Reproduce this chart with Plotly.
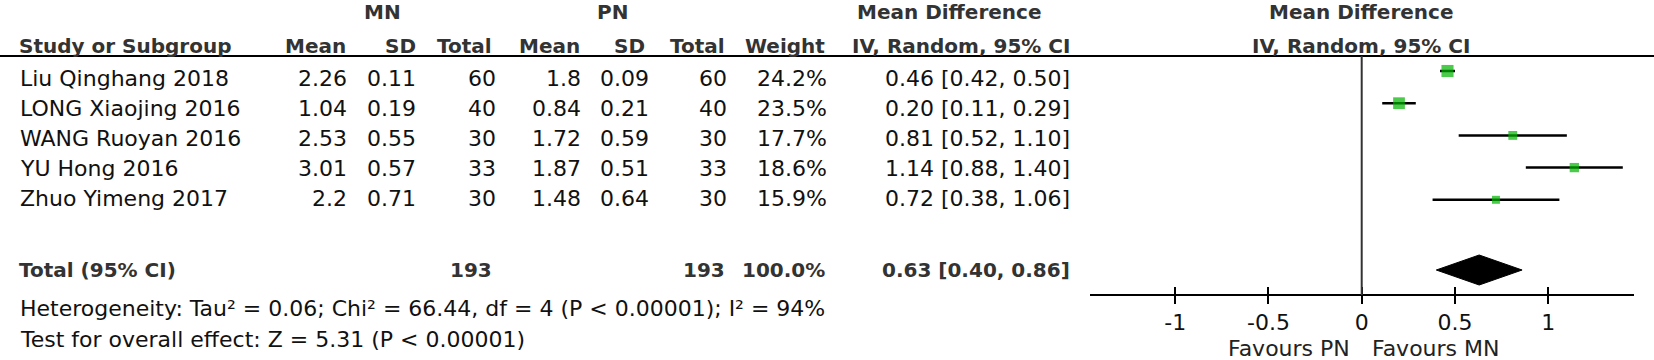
import plotly.graph_objects as go

# ---------------- data ----------------
studies = ["Liu Qinghang 2018", "LONG Xiaojing 2016", "WANG Ruoyan 2016", "YU Hong 2016", "Zhuo Yimeng 2017"]
mn_mean = [2.26, 1.04, 2.53, 3.01, 2.2]
mn_sd = [0.11, 0.19, 0.55, 0.57, 0.71]
mn_n = [60, 40, 30, 33, 30]
pn_mean = [1.8, 0.84, 1.72, 1.87, 1.48]
pn_sd = [0.09, 0.21, 0.59, 0.51, 0.64]
pn_n = [60, 40, 30, 33, 30]
weights = [24.2, 23.5, 17.7, 18.6, 15.9]
md = [0.46, 0.20, 0.81, 1.14, 0.72]
ci_lo = [0.42, 0.11, 0.52, 0.88, 0.38]
ci_hi = [0.50, 0.29, 1.10, 1.40, 1.06]
total_mn = 193
total_pn = 193
total_weight = 100.0
total_md = 0.63
total_lo = 0.40
total_hi = 0.86
heterogeneity = "Heterogeneity: Tau² = 0.06; Chi² = 66.44, df = 4 (P < 0.00001); I² = 94%"
overall = "Test for overall effect: Z = 5.31 (P < 0.00001)"
tick_vals = [-1, -0.5, 0, 0.5, 1]
tick_text = ["-1", "-0.5", "0", "0.5", "1"]

# ---------------- layout constants (pixels) ----------------
W, H = 1654, 360
FONT = "DejaVu Sans"
REG = 22
BLD = 20
C_REG = "#111111"
C_BLD = "#333333"
GREEN = "#00b400"

text_y0, text_step = 78, 30
mark_y0, mark_step = 71, 32.2
title_y = 12
head_y = 46
total_y = 270
diamond_y = 270
diamond_h = 15
line_y = 56
axis_y = 295
het_y = 308
test_y = 339
fav_y = 348

x_left_px, x_right_px = 1090, 1634
zero_px, unit_px = 1361.7, 186.5

def px(x):
    return x / W

fig = go.Figure()

# CI lines
lx, ly = [], []
for i in range(len(studies)):
    y = mark_y0 + i * mark_step
    lx += [ci_lo[i], ci_hi[i], None]
    ly += [y, y, None]
fig.add_trace(go.Scatter(x=lx, y=ly, mode="lines", line=dict(color="black", width=2.5),
                         hoverinfo="skip", showlegend=False, cliponaxis=False))
# squares
fig.add_trace(go.Scatter(
    x=md, y=[mark_y0 + i * mark_step for i in range(len(studies))], mode="markers",
    marker=dict(symbol="square", color=GREEN, size=[w * 0.5 for w in weights], line=dict(width=0)),
    showlegend=False, cliponaxis=False))
# diamond
fig.add_trace(go.Scatter(
    x=[total_lo, total_md, total_hi, total_md, total_lo],
    y=[diamond_y, diamond_y - diamond_h, diamond_y, diamond_y + diamond_h, diamond_y],
    mode="lines", fill="toself", fillcolor="black", line=dict(color="black", width=1),
    showlegend=False, cliponaxis=False))

ann = []

def add(text, x, y, anchor="left", bold=False, size=None, color=None):
    ann.append(dict(
        text=("<b>%s</b>" % text) if bold else text,
        x=px(x), xref="paper", y=y, yref="y", xanchor=anchor, yanchor="middle",
        showarrow=False,
        font=dict(family=FONT, size=size or (BLD if bold else REG),
                  color=color or (C_BLD if bold else C_REG))))

# headers
add("MN", 382, title_y, "center", bold=True)
add("PN", 612, title_y, "center", bold=True)
add("Mean Difference", 949, title_y, "center", bold=True)
add("Mean Difference", 1361, title_y, "center", bold=True)
add("Study or Subgroup", 17, head_y, "left", bold=True)
add("Mean", 348, head_y, "right", bold=True)
add("SD", 418, head_y, "right", bold=True)
add("Total", 494, head_y, "right", bold=True)
add("Mean", 582, head_y, "right", bold=True)
add("SD", 647, head_y, "right", bold=True)
add("Total", 727, head_y, "right", bold=True)
add("Weight", 827, head_y, "right", bold=True)
add("IV, Random, 95% CI", 1072, head_y, "right", bold=True)
add("IV, Random, 95% CI", 1361, head_y, "center", bold=True)

# study rows
for i, s in enumerate(studies):
    y = text_y0 + i * text_step
    add(s, 18, y, "left")
    add(str(mn_mean[i]), 349, y, "right")
    add(str(mn_sd[i]), 418, y, "right")
    add(str(mn_n[i]), 498, y, "right")
    add(str(pn_mean[i]), 583, y, "right")
    add(str(pn_sd[i]), 651, y, "right")
    add(str(pn_n[i]), 729, y, "right")
    add("%.1f%%" % weights[i], 829, y, "right")
    add("%.2f [%.2f, %.2f]" % (md[i], ci_lo[i], ci_hi[i]), 1072, y, "right")

# total
add("Total (95% CI)", 17, total_y, "left", bold=True)
add(str(total_mn), 494, total_y, "right", bold=True)
add(str(total_pn), 727, total_y, "right", bold=True)
add("%.1f%%" % total_weight, 827, total_y, "right", bold=True)
add("%.2f [%.2f, %.2f]" % (total_md, total_lo, total_hi), 1072, total_y, "right", bold=True)
add(heterogeneity, 18, het_y, "left")
add(overall, 18, test_y, "left")
add("Favours PN", 1352, fav_y, "right", color="#222222")
add("Favours MN", 1370, fav_y, "left", color="#222222")

shapes = [
    dict(type="line", xref="paper", yref="y", x0=0, x1=1, y0=line_y, y1=line_y,
         line=dict(color="black", width=2)),
    dict(type="line", xref="x", yref="y", x0=0, x1=0, y0=line_y, y1=axis_y,
         line=dict(color="#333333", width=2)),
]

xr = [(x_left_px - zero_px) / unit_px, (x_right_px - zero_px) / unit_px]
dom = [px(x_left_px), px(x_right_px)]
axis_pos = (H - axis_y) / H

fig.update_layout(
    width=W, height=H, margin=dict(l=0, r=0, t=0, b=0),
    paper_bgcolor="white", plot_bgcolor="rgba(0,0,0,0)",
    annotations=ann, shapes=shapes, showlegend=False,
    xaxis=dict(domain=dom, range=xr, anchor="free", position=axis_pos,
               showline=True, linecolor="black", linewidth=2,
               ticks="outside", ticklen=8, tickwidth=2, tickcolor="black",
               tickvals=tick_vals, ticktext=tick_text, showgrid=False, zeroline=False,
               tickfont=dict(family=FONT, size=REG, color=C_REG), ticklabelstandoff=0,
               fixedrange=True),
    xaxis2=dict(domain=dom, range=xr, anchor="free", position=axis_pos, overlaying="x",
                showline=False, ticks="inside", ticklen=8, tickwidth=2, tickcolor="black",
                tickvals=tick_vals, showticklabels=False, showgrid=False, zeroline=False,
                fixedrange=True),
    yaxis=dict(domain=[0, 1], range=[H, 0], visible=False, fixedrange=True),
)
# invisible trace so that xaxis2 (upper half of the tick marks) is drawn
fig.add_trace(go.Scatter(x=[0], y=[0], xaxis="x2", mode="markers", marker=dict(opacity=0),
                         hoverinfo="skip", showlegend=False))

fig.write_html("out.html", config={"displayModeBar": False},
               post_script="document.body.style.margin='0';")
